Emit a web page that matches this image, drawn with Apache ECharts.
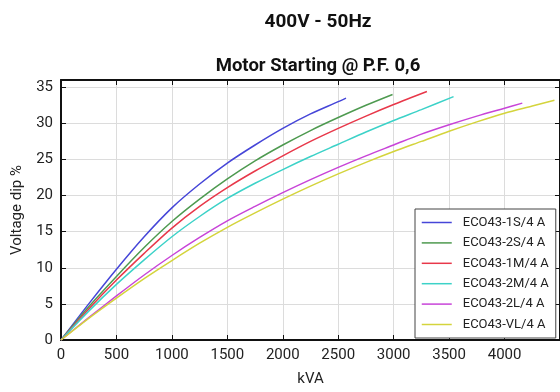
<!DOCTYPE html>
<html>
<head>
<meta charset="utf-8">
<script src="https://cdn.jsdelivr.net/npm/echarts@6/dist/echarts.min.js"></script>
<style>
  html, body { margin: 0; padding: 0; background: #fff; }
  #chart { width: 560px; height: 392px; }
</style>
</head>
<body>
<div id="chart"></div>
<script>
// Voltage dip (%) versus motor starting kVA, 400 V - 50 Hz, P.F. 0,6
const seriesNames = ['ECO43-1S/4 A', 'ECO43-2S/4 A', 'ECO43-1M/4 A', 'ECO43-2M/4 A', 'ECO43-2L/4 A', 'ECO43-VL/4 A'];
const seriesColors = ['#4646d8', '#4e9a50', '#e8384a', '#3cd2c8', '#c844d8', '#d4d43c'];

// [kVA, voltage dip %]
const eco43_1S = [[0, 0], [250, 5.0], [500, 9.8], [750, 14.3], [1000, 18.3], [1250, 21.6], [1500, 24.5],
  [1750, 27.0], [2000, 29.3], [2250, 31.3], [2500, 33.0], [2570, 33.5]];
const eco43_2S = [[0, 0], [250, 4.6], [500, 8.8], [750, 12.8], [1000, 16.4], [1250, 19.5], [1500, 22.3],
  [1750, 24.8], [2000, 27.0], [2250, 29.0], [2500, 30.8], [2750, 32.5], [2990, 34.0]];
const eco43_1M = [[0, 0], [250, 4.3], [500, 8.3], [750, 12.0], [1000, 15.5], [1250, 18.5], [1500, 21.1],
  [1750, 23.4], [2000, 25.5], [2250, 27.5], [2500, 29.3], [2750, 31.0], [3000, 32.6], [3300, 34.4]];
const eco43_2M = [[0, 0], [250, 4.0], [500, 7.7], [750, 11.1], [1000, 14.3], [1250, 17.1], [1500, 19.6],
  [1750, 21.7], [2000, 23.6], [2250, 25.4], [2500, 27.1], [2750, 28.8], [3000, 30.4], [3250, 31.9], [3540, 33.7]];
const eco43_2L = [[0, 0], [250, 3.1], [500, 6.1], [750, 9.0], [1000, 11.7], [1250, 14.2], [1500, 16.5],
  [1750, 18.5], [2000, 20.4], [2250, 22.2], [2500, 23.9], [2750, 25.5], [3000, 27.0], [3250, 28.5],
  [3500, 29.8], [3750, 31.0], [4000, 32.1], [4160, 32.8]];
const eco43_VL = [[0, 0], [250, 3.0], [500, 5.8], [750, 8.5], [1000, 11.0], [1250, 13.4], [1500, 15.6],
  [1750, 17.6], [2000, 19.5], [2250, 21.3], [2500, 23.0], [2750, 24.6], [3000, 26.1], [3250, 27.5],
  [3500, 28.9], [3750, 30.2], [4000, 31.4], [4250, 32.4], [4450, 33.2]];
const seriesData = [eco43_1S, eco43_2S, eco43_1M, eco43_2M, eco43_2L, eco43_VL];

const xTicks = { min: 0, max: 4500, interval: 500 };
const yTicks = { min: 0, max: 36, interval: 5 };

const FONT = 'Roboto';
const chart = echarts.init(document.getElementById('chart'), null, { renderer: 'canvas' });

// top and right frame edges with inward ticks
const frameAxis = {
  axisLine: { show: true, onZero: false, lineStyle: { color: '#111', width: 2 } },
  axisTick: { show: true, inside: true, length: 5, lineStyle: { color: '#111', width: 1 } },
  axisLabel: { show: false },
  splitLine: { show: false }
};

chart.setOption({
  animation: false,
  backgroundColor: '#fff',
  textStyle: { fontFamily: FONT },
  title: [
    { text: '400V - 50Hz', left: 313, top: 8, textAlign: 'center',
      textStyle: { fontFamily: FONT, fontWeight: 'bold', fontSize: 19, color: '#111' } },
    { text: 'Motor Starting @ P.F. 0,6', left: 313, top: 52, textAlign: 'center',
      textStyle: { fontFamily: FONT, fontWeight: 'bold', fontSize: 18.5, color: '#111' } }
  ],
  grid: { left: 61, top: 80, width: 504, height: 266, containLabel: false },
  legend: {
    orient: 'vertical',
    left: 415, top: 209,
    data: seriesNames,
    backgroundColor: '#fff',
    borderColor: '#444', borderWidth: 1, borderRadius: 0,
    padding: [7, 7, 7, 6],
    itemWidth: 30, itemHeight: 14, itemGap: 7.4,
    itemStyle: { opacity: 0 },
    lineStyle: { width: 1.5 },
    textStyle: { fontFamily: FONT, fontSize: 13, color: '#222', padding: [0, 0, 0, 6] }
  },
  xAxis: [
    {
      type: 'value', position: 'bottom',
      min: xTicks.min, max: xTicks.max, interval: xTicks.interval,
      name: 'kVA', nameLocation: 'middle', nameGap: 32,
      nameTextStyle: { fontFamily: FONT, fontSize: 15, color: '#222' },
      axisLine: { show: true, onZero: false, lineStyle: { color: '#111', width: 2 } },
      axisTick: { show: true, inside: true, length: 5, lineStyle: { color: '#111', width: 1 } },
      axisLabel: { fontFamily: FONT, fontSize: 15, color: '#222', margin: 8, showMaxLabel: false,
        formatter: v => String(v) },
      splitLine: { show: true, lineStyle: { color: '#dcdcdc', width: 1 } }
    },
    Object.assign({ type: 'value', position: 'top', min: xTicks.min, max: xTicks.max, interval: xTicks.interval }, frameAxis)
  ],
  yAxis: [
    {
      type: 'value', position: 'left',
      min: yTicks.min, max: yTicks.max, interval: yTicks.interval,
      name: 'Voltage dip %', nameLocation: 'middle', nameGap: 35,
      nameTextStyle: { fontFamily: FONT, fontSize: 15, color: '#222' },
      axisLine: { show: true, onZero: false, lineStyle: { color: '#111', width: 2 } },
      axisTick: { show: true, inside: true, length: 5, lineStyle: { color: '#111', width: 1 } },
      axisLabel: { fontFamily: FONT, fontSize: 15, color: '#222', margin: 8, showMaxLabel: false,
        formatter: v => (v % 5 === 0 ? String(v) : '') },
      splitLine: { show: true, lineStyle: { color: '#dcdcdc', width: 1 } }
    },
    Object.assign({ type: 'value', position: 'right', min: yTicks.min, max: yTicks.max, interval: yTicks.interval }, frameAxis)
  ],
  series: seriesData.map((d, i) => ({
    name: seriesNames[i],
    type: 'line',
    xAxisIndex: 0, yAxisIndex: 0,
    data: d,
    smooth: 0.3,
    symbol: 'none',
    color: seriesColors[i],
    lineStyle: { width: 1.5, color: seriesColors[i] }
  }))
});
</script>
</body>
</html>
